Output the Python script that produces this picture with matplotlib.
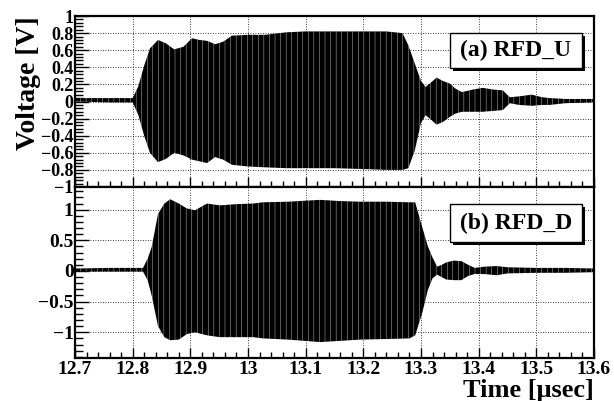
import matplotlib
matplotlib.use('Agg')
import matplotlib.pyplot as plt
from matplotlib.patches import Rectangle
from matplotlib.ticker import MultipleLocator

plt.rcParams['font.family'] = ['Liberation Serif', 'DejaVu Serif']
plt.rcParams['font.weight'] = 'bold'
plt.rcParams['hatch.color'] = 'white'
plt.rcParams['hatch.linewidth'] = 0.25

# envelope of the RFD_U waveform (usec, V)
t_a = [12.70, 12.76, 12.80, 12.81, 12.82, 12.83, 12.844, 12.858, 12.872, 12.888,
       12.903, 12.916, 12.929, 12.943, 12.957, 12.972, 13.00, 13.03, 13.067, 13.10,
       13.15, 13.20, 13.24, 13.268, 13.278, 13.289, 13.30, 13.308, 13.317, 13.327,
       13.338, 13.35, 13.36, 13.371, 13.39, 13.407, 13.425, 13.442, 13.454, 13.47,
       13.492, 13.51, 13.523, 13.55, 13.60]
up_a = [0.04, 0.04, 0.04, 0.18, 0.42, 0.62, 0.72, 0.68, 0.61, 0.64,
        0.74, 0.72, 0.71, 0.67, 0.70, 0.77, 0.78, 0.78, 0.81, 0.82,
        0.82, 0.82, 0.82, 0.80, 0.66, 0.45, 0.24, 0.17, 0.22, 0.28,
        0.24, 0.21, 0.15, 0.11, 0.14, 0.16, 0.14, 0.13, 0.05, 0.06,
        0.08, 0.05, 0.04, 0.03, 0.03]
lo_a = [0.0, -0.01, -0.01, -0.16, -0.40, -0.60, -0.71, -0.67, -0.60, -0.63,
        -0.68, -0.70, -0.72, -0.65, -0.68, -0.74, -0.76, -0.77, -0.78, -0.78,
        -0.78, -0.79, -0.80, -0.80, -0.78, -0.58, -0.25, -0.16, -0.21, -0.27,
        -0.24, -0.18, -0.14, -0.12, -0.12, -0.12, -0.11, -0.10, -0.02, -0.04,
        -0.05, -0.04, -0.04, -0.02, -0.01]

# envelope of the RFD_D waveform
t_b = [12.70, 12.76, 12.818, 12.826, 12.833, 12.844, 12.855, 12.865, 12.88, 12.894,
       12.908, 12.929, 12.951, 12.98, 13.009, 13.026, 13.07, 13.125, 13.16, 13.194,
       13.24, 13.28, 13.29, 13.302, 13.312, 13.320, 13.328, 13.336, 13.344, 13.357,
       13.37, 13.382, 13.393, 13.41, 13.431, 13.45, 13.50, 13.55, 13.60]
up_b = [0.04, 0.05, 0.05, 0.20, 0.39, 0.93, 1.10, 1.17, 1.10, 1.02,
        0.99, 1.10, 1.07, 1.09, 1.10, 1.12, 1.13, 1.16, 1.14, 1.13,
        1.13, 1.12, 1.12, 0.72, 0.40, 0.22, 0.07, 0.10, 0.14, 0.17,
        0.16, 0.10, 0.05, 0.07, 0.08, 0.06, 0.05, 0.05, 0.04]
lo_b = [-0.01, -0.01, -0.01, -0.15, -0.40, -0.90, -1.08, -1.13, -1.12, -1.03,
        -1.00, -1.05, -1.08, -1.08, -1.08, -1.10, -1.12, -1.16, -1.14, -1.12,
        -1.11, -1.10, -1.05, -0.69, -0.31, -0.12, -0.06, -0.10, -0.14, -0.15,
        -0.15, -0.08, -0.05, -0.05, -0.07, -0.04, -0.03, -0.03, -0.02]

labels = ['(a) RFD_U', '(b) RFD_D']
x_ticks = [12.7, 12.8, 12.9, 13.0, 13.1, 13.2, 13.3, 13.4, 13.5, 13.6]
x_ticklabels = ['12.7', '12.8', '12.9', '13', '13.1', '13.2', '13.3', '13.4', '13.5', '13.6']

fig = plt.figure(figsize=(6.14, 4.01), dpi=100)
ax_a = fig.add_axes([0.1221, 0.5337, 0.8453, 0.4263])
ax_b = fig.add_axes([0.1221, 0.1072, 0.8453, 0.4265])


def draw_panel(ax, t, up, lo, label, box_y):
    ax.fill_between(t, lo, up, facecolor='black', edgecolor='white', hatch='|||',
                    linewidth=0, zorder=2)
    ax.set_xlim(12.7, 13.6)
    ax.xaxis.set_major_locator(MultipleLocator(0.1))
    ax.xaxis.set_minor_locator(MultipleLocator(0.02))
    ax.grid(True, which='major', color='black', linestyle=(0, (1, 2)), linewidth=0.6, zorder=1)
    ax.tick_params(which='both', direction='in', top=False, right=False,
                   width=1.0, color='black')
    ax.tick_params(axis='x', which='major', length=7)
    ax.tick_params(axis='x', which='minor', length=4)
    ax.tick_params(axis='y', which='major', length=10)
    ax.tick_params(axis='y', which='minor', length=6)
    for s in ax.spines.values():
        s.set_linewidth(1.6)
    # label box with a shadow, ROOT style
    x0, x1 = 0.7225, 0.977
    y0, y1 = box_y
    ax.add_patch(Rectangle((x0 + 0.006, y0 - 0.018), x1 - x0, y1 - y0,
                           transform=ax.transAxes, facecolor='black', edgecolor='black',
                           lw=0, zorder=5))
    ax.add_patch(Rectangle((x0, y0), x1 - x0, y1 - y0, transform=ax.transAxes,
                           facecolor='white', edgecolor='black', lw=1.0, zorder=6))
    ax.text((x0 + x1) / 2, (y0 + y1) / 2, label, transform=ax.transAxes,
            ha='center', va='center', fontsize=17, fontweight='bold', zorder=7)


draw_panel(ax_a, t_a, up_a, lo_a, labels[0], (0.696, 0.90))
ax_a.set_ylim(-1, 1)
ax_a.yaxis.set_minor_locator(MultipleLocator(0.04))
ax_a.set_xticks(x_ticks)
ax_a.set_xticklabels([])
ax_a.set_yticks([-1, -0.8, -0.6, -0.4, -0.2, 0, 0.2, 0.4, 0.6, 0.8, 1])
ax_a.set_yticklabels(['\u22121', '\u22120.8', '\u22120.6', '\u22120.4', '\u22120.2', '0',
                      '0.2', '0.4', '0.6', '0.8', '1'], fontsize=13, fontweight='bold')
ax_a.tick_params(axis='y', pad=1)
ax_a.set_ylabel('Voltage [V]', fontsize=20, fontweight='bold', loc='top', labelpad=0)

draw_panel(ax_b, t_b, up_b, lo_b, labels[1], (0.678, 0.90))
ax_b.set_ylim(-1.42, 1.37)
ax_b.yaxis.set_minor_locator(MultipleLocator(0.1))
ax_b.set_yticks([-1, -0.5, 0, 0.5, 1])
ax_b.set_yticklabels(['\u22121', '\u22120.5', '0', '0.5', '1'], fontsize=14, fontweight='bold')
ax_b.set_xticks(x_ticks)
ax_b.set_xticklabels(x_ticklabels, fontsize=14, fontweight='bold')
ax_b.tick_params(axis='x', pad=2)
ax_b.tick_params(axis='y', pad=1)
ax_b.set_xlabel('Time [\u03bcsec]', fontsize=19, fontweight='bold', loc='right', labelpad=1)

fig.savefig('out.png', dpi=100)
